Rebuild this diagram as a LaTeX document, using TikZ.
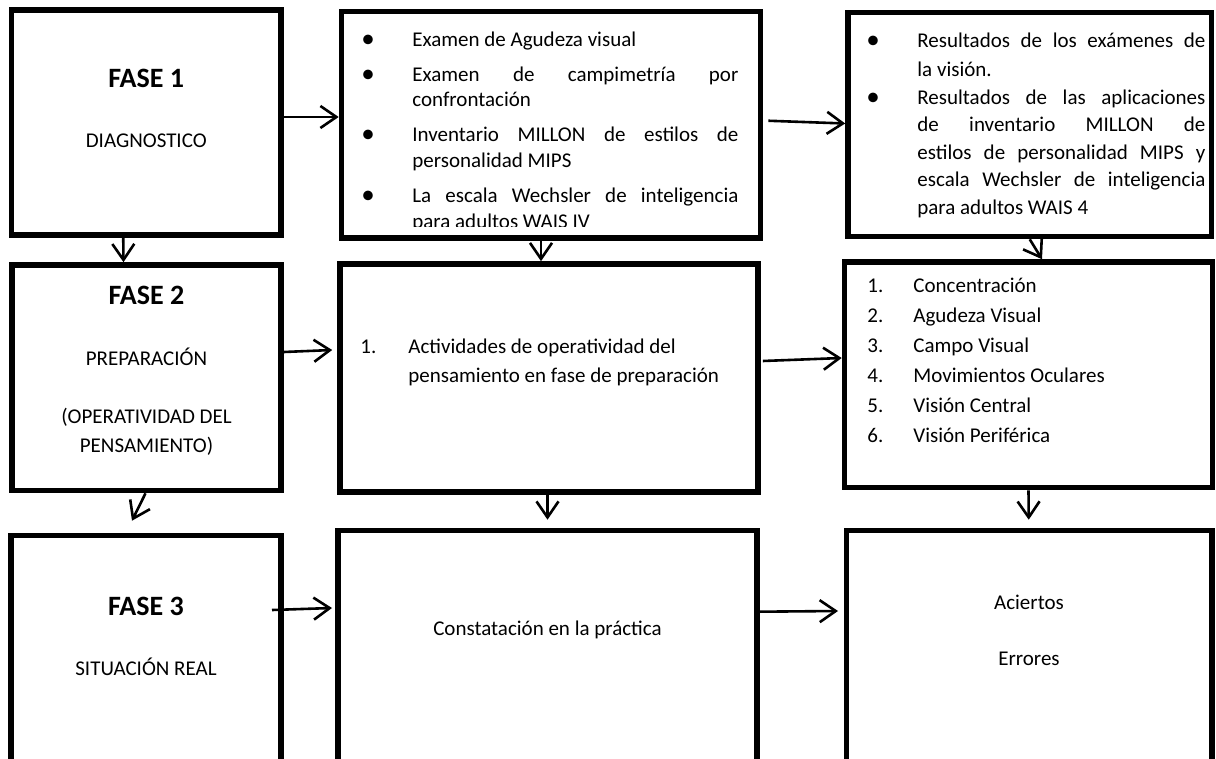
\documentclass[tikz,border=0pt]{standalone}
\usepackage{fontspec}
\setmainfont{Carlito}
\usetikzlibrary{arrows.meta,calc}

\begin{document}
\begin{tikzpicture}[x=0.5pt,y=-0.5pt,
  box/.style={draw=black, line width=2.8pt, rectangle, inner sep=0pt},
  arr/.style={line width=1.3pt, -{Straight Barb[length=8pt,width=11pt]}},
  txt/.style={inner sep=0pt, font=\fontsize{10.5pt}{13pt}\selectfont},
  bul/.style={inner sep=0pt, font=\fontsize{13.5pt}{13pt}\selectfont, anchor=base},
  head/.style={inner sep=0pt, font=\fontsize{14pt}{17pt}\selectfont\bfseries, anchor=base},
]
\useasboundingbox (0,0) rectangle (1216,759);
\clip (0,0) rectangle (1216,759);

% ---- boxes, three rows of three ----
\node[box, minimum width=134.75pt, minimum height=112.5pt]  (A) at (146.25,122.5) {};
\node[box, minimum width=209.5pt,  minimum height=113.25pt] (B) at (551,124.75) {};
\node[box, minimum width=181.75pt, minimum height=112pt]    (C) at (1029.75,124.5) {};

\node[box, minimum width=134.5pt,  minimum height=112.75pt] (D) at (146.5,377.75) {};
\node[box, minimum width=209pt,    minimum height=114pt]    (E) at (549,378) {};
\node[box, minimum width=184pt,    minimum height=112.75pt] (F) at (1028.5,374.75) {};

\node[box, minimum width=135pt,    minimum height=132.25pt] (G) at (146,667.75) {};
\node[box, minimum width=209.5pt,  minimum height=134.75pt] (H) at (547.5,665.25) {};
\node[box, minimum width=182.75pt, minimum height=134.75pt] (I) at (1029.25,665.25) {};

% ---- phase 1 ----
\node[head] (a1) at (146.25,88) {FASE 1};
\node[txt, anchor=base] (a2) at (146.25,148) {DIAGNOSTICO};

\begin{scope}
  \clip (341.5,11.5) rectangle (760.5,227);
  \foreach \yy/\md/\tx [count=\i] in {
      47/l/{Examen de Agudeza visual},
      82/s/{Examen de campimetría por},
      107/l/{confrontación},
      142/s/{Inventario MILLON de estilos de},
      168/l/{personalidad MIPS},
      203/s/{La escala Wechsler de inteligencia},
      229/l/{para adultos WAIS IV}}
    \node[txt, anchor=base west] (bl\i) at (412,\yy) {\makebox[163pt][\md]{\tx}};
  \foreach \yy [count=\i] in {47,82,142,203}
    \node[bul] (bb\i) at (368,\yy+1) {\textbullet};
\end{scope}

\begin{scope}
  \clip (848,12.5) rectangle (1211.5,224);
  \foreach \yy/\md/\tx [count=\i] in {
      48/s/{Resultados de los exámenes de},
      77/l/{la visión.},
      105/s/{Resultados de las aplicaciones},
      132/s/{de inventario MILLON de},
      160/s/{estilos de personalidad MIPS y},
      187/s/{escala Wechsler de inteligencia},
      215/l/{para adultos WAIS 4}}
    \node[txt, anchor=base west] (cl\i) at (917,\yy) {\makebox[144pt][\md]{\tx}};
  \foreach \yy [count=\i] in {48,105}
    \node[bul] (cb\i) at (873,\yy+1) {\textbullet};
\end{scope}

% ---- phase 2 ----
\node[head] (d1) at (146.5,305) {FASE 2};
\node[txt, anchor=base] (d2) at (146.5,365) {PREPARACIÓN};
\node[txt, anchor=base] (d3) at (146.5,423) {(OPERATIVIDAD DEL};
\node[txt, anchor=base] (d4) at (146.5,452) {PENSAMIENTO)};

\node[txt, anchor=base west] (e1) at (360,354) {1.};
\node[txt, anchor=base west] (e2) at (408,354) {Actividades de operatividad del};
\node[txt, anchor=base west] (e3) at (408,382) {pensamiento en fase de preparación};

\foreach \tx [count=\i] in {Concentración, Agudeza Visual, Campo Visual,
                            Movimientos Oculares, Visión Central, Visión Periférica}{
  \node[txt, anchor=base west] (fn\i) at (867,263+30*\i) {\i.};
  \node[txt, anchor=base west] (ft\i) at (913,263+30*\i) {\tx};
}

% ---- phase 3 ----
\node[head] (g1) at (146,615) {FASE 3};
\node[txt, anchor=base] (g2) at (146,675) {SITUACIÓN REAL};
\node[txt, anchor=base] (h1) at (547.5,635) {Constatación en la práctica};
\node[txt, anchor=base] (i1) at (1029,609) {Aciertos};
\node[txt, anchor=base] (i2) at (1029,665) {Errores};

% ---- connectors ----
\draw[arr] ($(A.east)+(0,-5.5)$) -- ($(B.west)+(0,-7.75)$);
\draw[arr] ($(B.east)+(5,-4)$) -- ($(C.west)+(0,-1)$);
\draw[arr] ($(A.south)+(-23,0)$) -- ($(D.north)+(-23,0)$);
\draw[arr] ($(B.south)+(-10,0)$) -- ($(E.north)+(-8,0)$);
\draw[arr] (C.south) -- ($(F.north)+(13.5,0)$);

\draw[arr] ($(D.east)+(0,-25.75)$) -- ($(E.west)+(-5,-28)$);
\draw[arr] ($(E.east)+(2,-17)$) -- ($(F.west)+(0,-16.75)$);
\draw[arr] ($(D.south)+(-1,0)$) -- ($(G.north)+(-14,-12)$);
\draw[arr] ($(E.south)+(-1.5,0)$) -- ($(H.north)+(0,-8)$);
\draw[arr] (F.south) -- ($(I.north)+(-0.5,-8)$);

\draw[arr] ($(G.north east)+(-11.8,77.3)$) -- ($(H.north west)+(-3.2,80.3)$);
\draw[arr] ($(H.north east)+(0,84)$) -- ($(I.north west)+(-5.7,83.3)$);
\end{tikzpicture}
\end{document}
